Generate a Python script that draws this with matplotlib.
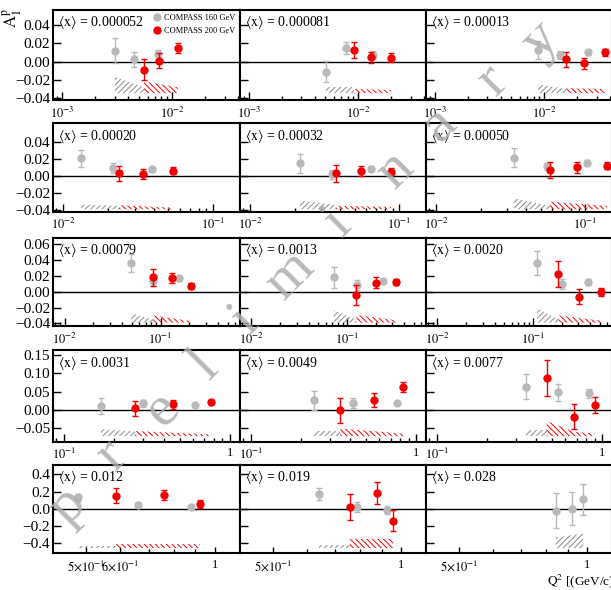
import numpy as np
import matplotlib
matplotlib.use("Agg")
import matplotlib.pyplot as plt
from matplotlib.ticker import FixedLocator, FuncFormatter, NullFormatter, LogLocator, NullLocator
from matplotlib.lines import Line2D

plt.rcParams['font.family'] = ['Liberation Serif', 'DejaVu Serif']
plt.rcParams['mathtext.fontset'] = 'stix'
plt.rcParams['hatch.linewidth'] = 0.7

# ---------------- data ----------------
X_LABELS = ["0.000052", "0.000081", "0.00013",
            "0.00020", "0.00032", "0.00050",
            "0.00079", "0.0013", "0.0020",
            "0.0031", "0.0049", "0.0077",
            "0.012", "0.019", "0.028"]

# COMPASS 160 GeV
Q2_160 = [[0.00303, 0.00452, 0.0074], [0.00508, 0.00778, 0.0136], [0.00875, 0.0139, 0.0251],
          [0.01312, 0.0213, 0.039], [0.0215, 0.0351, 0.0647], [0.0333, 0.0556, 0.1026],
          [0.0493, 0.083, 0.156], [0.0729, 0.1277, 0.240], [0.1106, 0.1995, 0.381],
          [0.167, 0.301, 0.615], [0.240, 0.413, 0.771], [0.347, 0.543, 0.836],
          [0.479, 0.659, 0.877], [0.641, 0.789, 0.927], [0.843, 0.922, 0.979]]
A_160 = [[0.012, 0.0026, 0.008], [-0.0109, 0.0153, 0.0073], [0.0128, 0.0073, 0.0102],
         [0.0204, 0.0094, 0.0075], [0.0145, 0.0016, 0.0082], [0.021, 0.0114, 0.0152],
         [0.0358, 0.0139, 0.0168], [0.018, 0.0085, 0.0135], [0.0358, 0.0093, 0.0118],
         [0.0109, 0.018, 0.0136], [0.027, 0.020, 0.018], [0.0634, 0.048, 0.045],
         [0.135, 0.046, 0.02], [0.17, 0.02, -0.012], [-0.02, 0.0, 0.112]]
E_160 = [[0.0135, 0.008, 0.005], [0.0113, 0.0065, 0.004], [0.010, 0.004, 0.003],
         [0.0103, 0.006, 0.003], [0.011, 0.005, 0.003], [0.011, 0.004, 0.003],
         [0.0115, 0.007, 0.003], [0.013, 0.0065, 0.003], [0.015, 0.0065, 0.004],
         [0.0205, 0.010, 0.004], [0.026, 0.0135, 0.005], [0.034, 0.0225, 0.013],
         [0.04, 0.02, 0.015], [0.07, 0.06, 0.05], [0.205, 0.19, 0.18]]

# COMPASS 200 GeV
Q2_200 = [[0.00556, 0.00767, 0.01127], [0.0092, 0.0130, 0.01995], [0.0159, 0.0231, 0.036],
          [0.0235, 0.0341, 0.0536], [0.0374, 0.0556, 0.088], [0.0578, 0.088, 0.1397],
          [0.084, 0.131, 0.208], [0.1256, 0.201, 0.330], [0.1845, 0.305, 0.521],
          [0.268, 0.452, 0.766], [0.348, 0.553, 0.836], [0.462, 0.678, 0.904],
          [0.586, 0.760, 0.922], [0.757, 0.876, 0.958], []]
A_200 = [[-0.009, 0.0008, 0.0146], [0.0128, 0.0048, 0.0044], [0.0026, -0.0018, 0.0102],
         [0.0028, 0.002, 0.0059], [0.0028, 0.0055, 0.0047], [0.0067, 0.0098, 0.0117],
         [0.018, 0.0168, 0.0072], [-0.0042, 0.0114, 0.0118], [0.0223, -0.0063, -0.0008],
         [0.0045, 0.0155, 0.0226], [0.0, 0.027, 0.0634], [0.086, -0.018, 0.0136],
         [0.15, 0.161, 0.054], [0.02, 0.181, -0.135], []]
E_200 = [[0.0116, 0.0083, 0.0055], [0.009, 0.006, 0.005], [0.0083, 0.006, 0.004],
         [0.009, 0.006, 0.004], [0.0097, 0.006, 0.004], [0.0097, 0.006, 0.004],
         [0.011, 0.0065, 0.004], [0.013, 0.0065, 0.004], [0.0165, 0.0093, 0.005],
         [0.020, 0.013, 0.005], [0.034, 0.020, 0.0135], [0.049, 0.034, 0.0225],
         [0.087, 0.06, 0.045], [0.15, 0.13, 0.117], []]

# systematic bands (upper edge), drawn from the row baseline
BAND160_X = [[0.00303, 0.00556], [0.00508, 0.0092], [0.00875, 0.0159],
             [0.01312, 0.0235], [0.0215, 0.0374], [0.0333, 0.0578],
             [0.0493, 0.084], [0.0729, 0.1256], [0.1106, 0.1845],
             [0.167, 0.268], [0.240, 0.348], [0.347, 0.462],
             [0.479, 0.586], [0.641, 0.757], [0.843, 0.979]]
BAND160_TOP = [[-0.017, -0.028], [-0.028, -0.028], [-0.0247, -0.030],
               [-0.0335, -0.035], [-0.0285, -0.034], [-0.026, -0.035],
               [-0.027, -0.035], [-0.023, -0.035], [-0.021, -0.035],
               [-0.052, -0.058], [-0.056, -0.056], [-0.054, -0.054],
               [-0.427, -0.427], [-0.415, -0.415], [-0.327, -0.288]]
BAND200_X = [[0.00556, 0.01127], [0.0092, 0.01995], [0.0159, 0.036],
             [0.0235, 0.0536], [0.0374, 0.088], [0.0578, 0.1397],
             [0.084, 0.208], [0.1256, 0.330], [0.1845, 0.521],
             [0.268, 0.766], [0.348, 0.836], [0.462, 0.678, 0.904],
             [0.586, 0.922], [0.757, 0.958], []]
BAND200_TOP = [[-0.0218, -0.028], [-0.030, -0.031], [-0.029, -0.030],
               [-0.034, -0.037], [-0.035, -0.036], [-0.030, -0.035],
               [-0.030, -0.037], [-0.0295, -0.036], [-0.030, -0.0365],
               [-0.057, -0.066], [-0.050, -0.064], [-0.030, -0.059, -0.064],
               [-0.407, -0.407], [-0.346, -0.346], []]

ROW_BASE = [-0.0345, -0.039, -0.039, -0.071, -0.453]
ROW_XLIM = [(10**-3.082, 10**-1.382), (10**-2.069, 10**-0.822), (10**-2.12, 10**-0.172),
            (10**-1.066, 10**0.060), (10**-0.379, 10**0.0585)]
ROW_YLIM = [(-0.042, 0.057), (-0.0418, 0.0613), (-0.0433, 0.068), (-0.086, 0.163), (-0.51, 0.51)]
ROW_YTICKS = [[-0.04, -0.02, 0.0, 0.02, 0.04], [-0.04, -0.02, 0.0, 0.02, 0.04],
              [-0.04, -0.02, 0.0, 0.02, 0.04, 0.06], [-0.05, 0.0, 0.05, 0.10, 0.15],
              [-0.4, -0.2, 0.0, 0.2, 0.4]]

GRAY = '#b9b9b9'
RED = '#f00000'

W, H = 611, 590
fig = plt.figure(figsize=(W / 100, H / 100), dpi=100)

col_edges = [(53, 240), (240, 426), (426, 612)]
row_edges = [(9.5, 100), (123.3, 211.7), (237.7, 326), (350, 441.7), (464.7, 553)]


def decade_fmt(v, pos):
    if abs(v - 1) < 1e-9:
        return "1"
    e = int(round(np.log10(v)))
    return r"$10^{%d}$" % e


for r in range(5):
    for c in range(3):
        i = r * 3 + c
        x0, x1 = col_edges[c]
        t, b = row_edges[r]
        ax = fig.add_axes([x0 / W, 1 - b / H, (x1 - x0) / W, (b - t) / H])
        ax.set_xscale('log')
        ax.set_xlim(*ROW_XLIM[r])
        ax.set_ylim(*ROW_YLIM[r])
        ax.axhline(0, color='black', lw=1.0, zorder=1)

        # systematic bands
        if BAND160_X[i]:
            ax.fill_between(BAND160_X[i], ROW_BASE[r], BAND160_TOP[i], facecolor='none',
                            edgecolor='#8a8a8a', hatch='//////', linewidth=0, zorder=2)
        if BAND200_X[i]:
            ax.fill_between(BAND200_X[i], ROW_BASE[r], BAND200_TOP[i], facecolor='none',
                            edgecolor=RED, hatch='\\\\\\\\\\\\', linewidth=0, zorder=2)

        ax.errorbar(Q2_160[i], A_160[i], yerr=E_160[i], fmt='o', color=GRAY, ms=5,
                    elinewidth=1.0, capsize=2, capthick=1.0, zorder=3)
        if Q2_200[i]:
            ax.errorbar(Q2_200[i], A_200[i], yerr=E_200[i], fmt='o', color=RED, ms=5,
                        elinewidth=1.0, capsize=2, capthick=1.0, zorder=4)

        ax.text(0.025, 0.95, r"$\langle\mathrm{x}\rangle$ = " + X_LABELS[i], transform=ax.transAxes,
                ha='left', va='top', fontsize=10)

        # axes style
        for s in ax.spines.values():
            s.set_linewidth(1.5)
        ax.tick_params(which='both', direction='in', top=False, right=False,
                       pad=4, width=1.0)
        ax.tick_params(axis='x', labelsize=9)
        ax.tick_params(axis='y', labelsize=11, pad=2)
        ax.tick_params(which='major', length=6)
        ax.tick_params(which='minor', length=3)

        ax.yaxis.set_major_locator(FixedLocator(ROW_YTICKS[r]))
        ax.yaxis.set_minor_locator(NullLocator())
        if c == 0:
            ax.yaxis.set_major_formatter(FuncFormatter(
                lambda v, p, rr=r: ("%.1f" % v if rr == 4 else "%.2f" % v).replace('-', '\u2212')))
        else:
            ax.yaxis.set_major_formatter(NullFormatter())

        if r < 4:
            ax.xaxis.set_major_locator(LogLocator(base=10, numticks=10))
            ax.xaxis.set_minor_locator(LogLocator(base=10, subs=np.arange(2, 10), numticks=20))
            ax.xaxis.set_major_formatter(FuncFormatter(decade_fmt))
            ax.xaxis.set_minor_formatter(NullFormatter())
        else:
            if c == 0:
                maj = [0.5, 0.6, 1.0]
                labs = [r"$5{\times}10^{-1}$", r"$6{\times}10^{-1}$", "1"]
                mnr = [0.7, 0.8, 0.9]
            else:
                maj = [0.5, 1.0]
                labs = [r"$5{\times}10^{-1}$", "1"]
                mnr = [0.6, 0.7, 0.8, 0.9]
            ax.xaxis.set_major_locator(FixedLocator(maj))
            ax.xaxis.set_major_formatter(FuncFormatter(lambda v, p, L=labs, M=maj: L[M.index(min(M, key=lambda m: abs(m - v)))]))
            ax.xaxis.set_minor_locator(FixedLocator(mnr))
            ax.xaxis.set_minor_formatter(NullFormatter())
            ax.tick_params(axis='x', which='major', length=4)

        if i == 0:
            handles = [Line2D([], [], marker='o', ls='none', color=GRAY, ms=5),
                       Line2D([], [], marker='o', ls='none', color=RED, ms=5)]
            ax.legend(handles, ["COMPASS 160 GeV", "COMPASS 200 GeV"], loc='upper right',
                      fontsize=6, frameon=False, handletextpad=0.2, labelspacing=0.6,
                      borderaxespad=0.25, handlelength=1.2, borderpad=0.3)

# axis titles
fig.text(12 / W, 1 - 8 / H, r"$\mathrm{A}_1^\mathrm{p}$", rotation=90, ha='center', va='top', fontsize=12)
fig.text(547 / W, 1 - 581 / H, r"$\mathrm{Q}^2$ [(GeV/c)$^2$]", ha='left', va='center', fontsize=9.5)

# watermark
WM_LETTERS = list("preliminary")
WM_POS = [(68, 505), (112, 455), (163, 410), (205, 365), (245, 320), (290, 275),
          (338, 222), (395, 170), (440, 125), (493, 80), (540, 40)]
for ch, (px, py) in zip(WM_LETTERS, WM_POS):
    fig.text(px / W, 1 - py / H, ch, rotation=45, ha='center', va='center', fontsize=42,
             color='#adadad', alpha=0.85, zorder=10)

fig.savefig("out.png", dpi=100)
